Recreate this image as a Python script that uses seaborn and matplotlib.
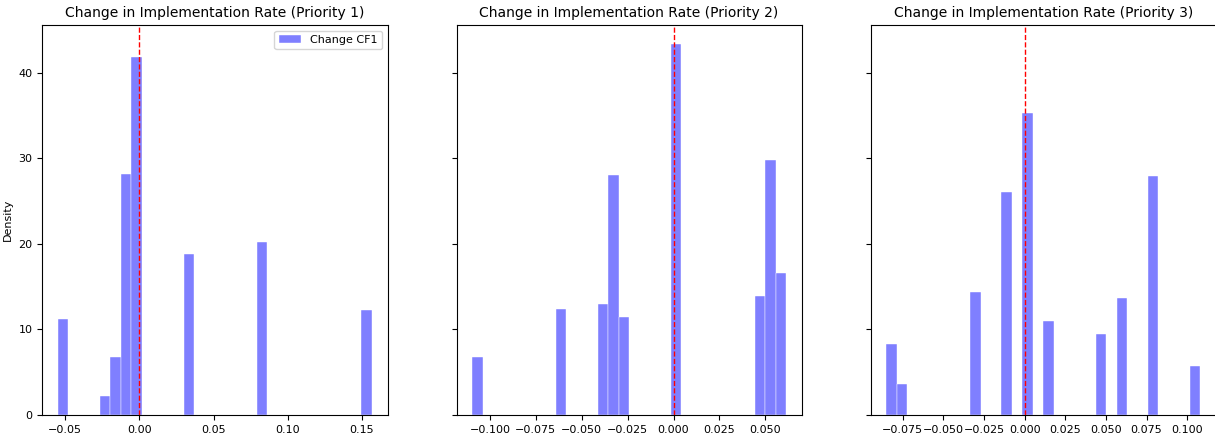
import numpy as np
import pandas as pd
import matplotlib
matplotlib.use("Agg")
import matplotlib.pyplot as plt
import seaborn as sns

# ---- data ----
# Priority 1: representative change values and their density weights
p1_values = [-0.05495, -0.02319, -0.01613, -0.00908, -0.00202, 0.03326, 0.08266, 0.15676]
p1_weights = [11.22, 2.18, 6.82, 28.16, 41.8, 18.85, 20.2, 12.27]

# Priority 2
p2_values = [-0.10964, -0.06122, -0.03843, -0.03273, -0.02703, 0.00145, 0.04703, 0.05272, 0.06127]
p2_weights = [6.8, 12.4, 13.0, 28.0, 11.5, 43.4, 13.9, 29.8, 16.6]

# Priority 3
p3_values = [-0.0850, -0.07535, -0.03032, -0.01102, 0.00185, 0.01469, 0.04685, 0.05972, 0.07902, 0.1080]
p3_weights = [8.26, 3.66, 14.3, 26.0, 35.2, 10.9, 9.43, 13.6, 27.85, 5.73]

titles = ["Change in Implementation Rate (Priority 1)",
          "Change in Implementation Rate (Priority 2)",
          "Change in Implementation Rate (Priority 3)"]
series_label = "Change CF1"

plt.rcParams['font.family'] = ['DejaVu Sans']

W, H = 1215, 442
fig, axes = plt.subplots(1, 3, figsize=(W / 100, H / 100), dpi=100, sharey=True)
left, width, gap = 42.3, 345.2, 69.0
for i, ax in enumerate(axes):
    x0 = left + i * (width + gap)
    ax.set_position([x0 / W, (H - 415) / H, width / W, 390 / H])

datasets = [(p1_values, p1_weights), (p2_values, p2_weights), (p3_values, p3_weights)]
for i, (ax, (vals, wts)) in enumerate(zip(axes, datasets)):
    df = pd.DataFrame({"change": vals, "w": wts})
    sns.histplot(data=df, x="change", weights="w", bins=30, stat="density",
                 color="blue", alpha=0.5, edgecolor="white", linewidth=0.3, ax=ax,
                 label=series_label if i == 0 else None)
    ax.axvline(0, color="red", linestyle="--", linewidth=1)
    ax.set_title(titles[i], fontsize=10)
    ax.set_xlabel("")
    ax.set_ylabel("Density", fontsize=8)
    ax.tick_params(labelsize=8)
    ax.yaxis.set_tick_params(labelleft=(i == 0))

axes[0].legend(fontsize=8, loc="upper right")

fig.savefig("out.png", dpi=100)
